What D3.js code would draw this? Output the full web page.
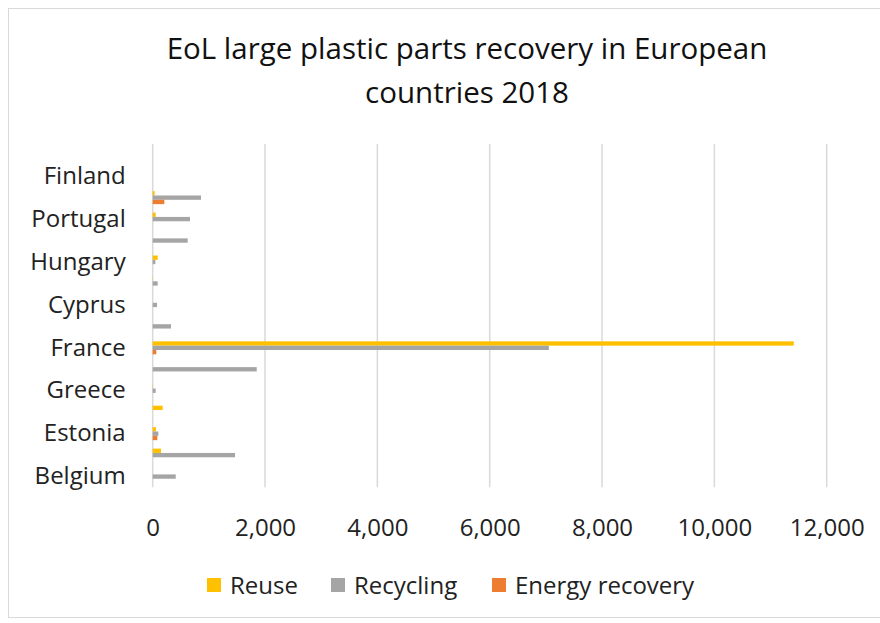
<!DOCTYPE html>
<html>
<head>
<meta charset="utf-8">
<script src="https://cdn.jsdelivr.net/npm/d3@7"></script>
<style>
  body { margin: 0; background: #fff; }
  text { font-family: "Open Sans", "Noto Sans", sans-serif; }
</style>
</head>
<body>
<div id="root"></div>
<script>
// categories bottom to top, the way the sheet lists them
const countries = ['Belgium', 'Czechia', 'Estonia', 'Ireland', 'Greece', 'Spain', 'France', 'Italy',
  'Cyprus', 'Lithuania', 'Hungary', 'Poland', 'Portugal', 'Slovenia', 'Finland', 'Sweden'];
const seriesNames = ['Reuse', 'Recycling', 'Energy recovery'];
const reuse =     [0, 148, 59, 178, 5, 0, 11414, 0, 0, 5, 89, 0, 53, 35, 0, 0];
const recycling = [410, 1466, 100, 0, 53, 1852, 7053, 326, 77, 89, 47, 623, 664, 860, 0, 0];
const energy =    [0, 0, 82, 0, 0, 0, 64, 0, 0, 0, 0, 0, 0, 207, 0, 0];
const xTicks = [0, 2000, 4000, 6000, 8000, 10000, 12000];
const colors = ['#FFC000', '#A5A5A5', '#ED7D31'];

const W = 880, H = 623;
const m = { left: 152.7, right: 826.7, top: 144, bottom: 487.3 };
const fontSize = 24;

const svg = d3.select('#root').append('svg')
  .attr('width', W)
  .attr('height', H);

// chart border
svg.append('rect')
  .attr('x', 8.5).attr('y', 8.5)
  .attr('width', W).attr('height', 609)
  .attr('fill', '#fff')
  .attr('stroke', '#d9d9d9');

svg.append('text')
  .attr('x', 467).attr('y', 59)
  .attr('text-anchor', 'middle')
  .attr('font-size', 29.5)
  .attr('fill', '#111')
  .text('EoL large plastic parts recovery in European');
svg.append('text')
  .attr('x', 467).attr('y', 103)
  .attr('text-anchor', 'middle')
  .attr('font-size', 29.5)
  .attr('fill', '#111')
  .text('countries 2018');

const x = d3.scaleLinear().domain([0, 12000]).range([m.left, m.right]);
const y = d3.scaleBand()
  .domain(countries.slice().reverse())
  .range([m.top, m.bottom])
  .paddingInner(0.394)
  .paddingOuter(0.197);
const ySub = d3.scaleBand().domain(seriesNames).range([0, y.bandwidth()]);

// gridlines
svg.append('g').selectAll('line')
  .data(xTicks)
  .join('line')
  .attr('x1', d => x(d)).attr('x2', d => x(d))
  .attr('y1', m.top).attr('y2', m.bottom)
  .attr('stroke', '#d9d9d9')
  .attr('stroke-width', 1.5);

const rows = countries.map((c, i) => ({ country: c, vals: [reuse[i], recycling[i], energy[i]] }));

const groups = svg.append('g').selectAll('g')
  .data(rows)
  .join('g')
  .attr('transform', d => `translate(0,${y(d.country)})`);

groups.selectAll('rect')
  .data(d => d.vals.map((v, k) => ({ v: v, k: k })))
  .join('rect')
  .attr('x', x(0))
  .attr('y', d => ySub(seriesNames[d.k]))
  .attr('width', d => x(d.v) - x(0))
  .attr('height', ySub.bandwidth())
  .attr('fill', d => colors[d.k]);

// x axis
const xAxis = svg.append('g')
  .attr('transform', `translate(0,${m.bottom})`)
  .call(d3.axisBottom(x).tickValues(xTicks).tickFormat(d3.format(',')).tickSize(0).tickPadding(32));
xAxis.select('.domain').remove();
xAxis.selectAll('text').attr('font-size', fontSize).attr('fill', '#222')
  .attr('font-family', '"Open Sans", "Noto Sans", sans-serif');

// y axis, every other label like the original
const yAxis = svg.append('g')
  .attr('transform', `translate(${m.left},0)`)
  .call(d3.axisLeft(y).tickSize(0).tickPadding(27)
    .tickFormat(d => countries.indexOf(d) % 2 === 0 ? d : ''));
yAxis.select('.domain').remove();
yAxis.selectAll('text').attr('font-size', fontSize).attr('fill', '#222')
  .attr('font-family', '"Open Sans", "Noto Sans", sans-serif');

// legend
const legendX = [207, 331, 492];
const leg = svg.append('g').selectAll('g')
  .data(seriesNames)
  .join('g')
  .attr('transform', (d, i) => `translate(${legendX[i]},585)`);
leg.append('rect')
  .attr('x', 0).attr('y', -7)
  .attr('width', 14).attr('height', 14)
  .attr('fill', (d, i) => colors[i]);
leg.append('text')
  .attr('x', 23).attr('y', 9)
  .attr('font-size', fontSize)
  .attr('fill', '#222')
  .text(d => d);
</script>
</body>
</html>
